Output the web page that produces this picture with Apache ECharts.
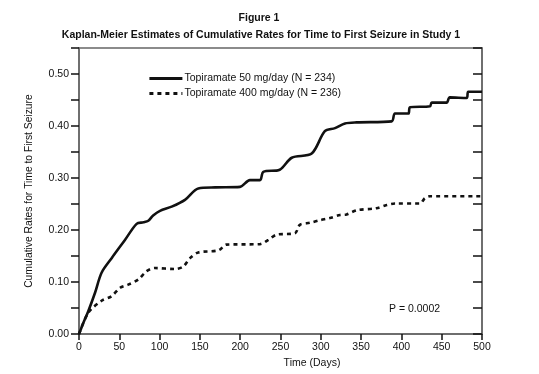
<!DOCTYPE html>
<html><head><meta charset="utf-8">
<script src="https://cdn.jsdelivr.net/npm/echarts@6/dist/echarts.min.js"></script>
<style>html,body{margin:0;padding:0;background:#fff}#c{width:539px;height:374px}</style>
</head><body><div id="c"></div>
<script>
var titleMain = 'Figure 1';
var titleSub = 'Kaplan-Meier Estimates of Cumulative Rates for Time to First Seizure in Study 1';
var seriesNames = ['Topiramate 50 mg/day (N = 234)', 'Topiramate 400 mg/day (N = 236)'];
var days50 = [0, 5, 11.5, 20, 28, 40.5, 57, 71.5, 80, 86, 92, 100.5, 115, 131.5, 148, 169, 199.8, 212, 224.6, 228.7, 249, 264, 288.7, 305, 317.6, 330, 344.5, 388, 392, 408.6, 410.7, 435.5, 437.6, 456, 460, 481, 483, 500];
var rate50 = [0, 0.02, 0.044, 0.08, 0.118, 0.146, 0.181, 0.212, 0.215, 0.218, 0.228, 0.237, 0.245, 0.258, 0.28, 0.282, 0.283, 0.296, 0.296, 0.312, 0.316, 0.339, 0.347, 0.39, 0.396, 0.405, 0.407, 0.409, 0.424, 0.424, 0.436, 0.438, 0.445, 0.445, 0.455, 0.454, 0.466, 0.466];
var days400 = [0, 11.5, 28, 40.5, 51, 61, 73.6, 84, 94, 119, 129.4, 137.7, 148, 173, 183, 224.6, 235, 245, 268, 274, 286.6, 299, 311, 324, 332, 344.5, 369, 381.7, 392, 423, 429, 435.5, 500];
var rate400 = [0, 0.041, 0.064, 0.073, 0.089, 0.095, 0.105, 0.121, 0.127, 0.125, 0.13, 0.146, 0.157, 0.161, 0.172, 0.173, 0.181, 0.191, 0.194, 0.21, 0.214, 0.219, 0.223, 0.229, 0.230, 0.238, 0.242, 0.248, 0.251, 0.251, 0.261, 0.265, 0.265];
var xName = 'Time (Days)';
var yName = 'Cumulative Rates for Time to First Seizure';
var pText = 'P = 0.0002';

function pairs(xs, ys){ return xs.map(function(x,i){ return [x, ys[i]]; }); }
var FF = "'Liberation Sans',Arial,Helvetica,sans-serif";
var chart = echarts.init(document.getElementById('c'), null, {renderer:'canvas'});
chart.setOption({
  animation: false,
  backgroundColor: '#fff',
  textStyle: {fontFamily: FF, color: '#222'},
  title: [
    {text: titleMain, left: 254, top: 8, textAlign: 'center',
     textStyle: {fontFamily: FF, fontSize: 10.5, fontWeight: 'bold', color: '#111'}},
    {text: titleSub, left: 256, top: 25, textAlign: 'center',
     textStyle: {fontFamily: FF, fontSize: 10.5, fontWeight: 'bold', color: '#111'}}
  ],
  legend: {
    orient: 'vertical', left: 143, top: 68, itemWidth: 33, itemHeight: 12, itemGap: 4,
    data: seriesNames,
    itemStyle: {opacity: 0, borderWidth: 0},
    lineStyle: {width: 2.8},
    textStyle: {fontFamily: FF, fontSize: 10.5, color: '#111', padding: [0,0,0,-3]}
  },
  grid: {left: 79, right: 57, top: 48, bottom: 39, show: true, borderColor: '#666', borderWidth: 1.5},
  xAxis: {
    type: 'value', min: 0, max: 500, interval: 50,
    name: xName, nameLocation: 'middle', nameGap: 17,
    nameTextStyle: {fontFamily: FF, fontSize: 10.5, color: '#111', padding: [0,0,0,63]},
    axisLine: {show: true, lineStyle: {color: '#666', width: 1.5}},
    axisTick: {show: true, length: 6, lineStyle: {color: '#111', width: 1.5}},
    axisLabel: {fontFamily: FF, fontSize: 10.5, color: '#111', margin: 8},
    splitLine: {show: false}
  },
  yAxis: [
    {
      type: 'value', min: 0, max: 0.55, interval: 0.05,
      name: yName, nameLocation: 'middle', nameGap: 45, nameRotate: 90,
      nameTextStyle: {fontFamily: FF, fontSize: 10.3, color: '#111'},
      axisLine: {show: true, lineStyle: {color: '#666', width: 1.5}},
      axisTick: {show: true, length: 8, lineStyle: {color: '#111', width: 1.5}},
      axisLabel: {fontFamily: FF, fontSize: 10.5, color: '#111', margin: 10,
        formatter: function(v){ var k = Math.round(v*100); return (k % 10 === 0 && k <= 50) ? (k/100).toFixed(2) : ''; }},
      splitLine: {show: false}
    },
    {
      type: 'value', min: 0, max: 0.55, interval: 0.05, position: 'right',
      axisLine: {show: true, lineStyle: {color: '#666', width: 1.5}},
      axisTick: {show: true, inside: true, length: 9, lineStyle: {color: '#111', width: 1.5}},
      axisLabel: {show: false}, splitLine: {show: false}
    }
  ],
  graphic: [
    {type: 'text', left: 389, top: 304, style: {text: pText, font: "10.5px " + FF, fill: '#111'}}
  ],
  series: [
    {name: seriesNames[0], type: 'line', data: pairs(days50, rate50), showSymbol: false, symbol: 'none',
     smooth: 0.3, lineStyle: {color: '#111', width: 2.6, type: 'solid'}, itemStyle: {color: '#111'}},
    {name: seriesNames[1], type: 'line', data: pairs(days400, rate400), showSymbol: false, symbol: 'none',
     smooth: 0.3, lineStyle: {color: '#111', width: 2.6, type: [4,4]}, itemStyle: {color: '#111'}}
  ]
});
</script></body></html>
